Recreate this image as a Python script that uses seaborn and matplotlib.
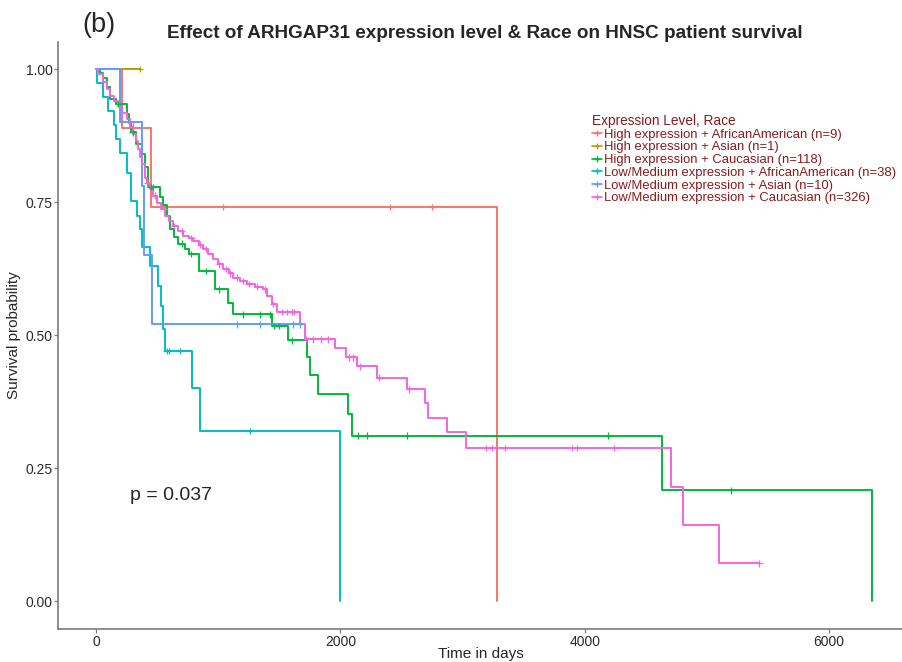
"""  Kaplan-Meier curves: ARHGAP31 expression level & race, HNSC  """
import matplotlib
matplotlib.use('Agg')
import matplotlib.pyplot as plt
from matplotlib.lines import Line2D
import numpy as np
import pandas as pd
import seaborn as sns

# ~~~~~~~~~  Data  ~~~~~~~~~ #
groups = ['High expression + AfricanAmerican (n=9)',
          'High expression + Asian (n=1)',
          'High expression + Caucasian (n=118)',
          'Low/Medium expression + AfricanAmerican (n=38)',
          'Low/Medium expression + Asian (n=10)',
          'Low/Medium expression + Caucasian (n=326)']
colors = ['#F8766D', '#B79F00', '#00BA38', '#00BFC4', '#619CFF', '#F564E3']

# step times (days) and survival right after each step
red_t = [0, 215, 447, 3281]
red_s = [1.0, 0.889, 0.741, 0.0]
red_cens = [1040, 2406, 2750]

gold_t = [0, 360]
gold_s = [1.0, 1.0]
gold_cens = [360]

green_t = [0, 30, 60, 90, 115, 160, 250, 270, 290, 330, 375, 400, 428, 524, 551, 578,
           606, 640, 674, 728, 760, 840, 975, 1083, 1124, 1437, 1574, 1727, 1751, 1819,
           2065, 2092, 4629, 6350]
green_s = [1.0, 0.992, 0.983, 0.966, 0.944, 0.934, 0.915, 0.898, 0.881, 0.860, 0.840,
           0.815, 0.778, 0.760, 0.745, 0.724, 0.699, 0.685, 0.672, 0.662, 0.652, 0.620,
           0.586, 0.561, 0.539, 0.517, 0.490, 0.458, 0.425, 0.389, 0.351, 0.311, 0.208, 0.0]
green_cens = [180, 300, 450, 470, 700, 780, 900, 1010, 1205, 1342, 1424, 1460, 1500,
              1600, 2144, 2217, 2545, 4190, 5196]

cyan_t = [0, 5, 55, 100, 150, 165, 200, 250, 290, 335, 360, 375, 445, 510, 535, 550,
          565, 785, 850, 2000]
cyan_s = [1.0, 0.974, 0.947, 0.921, 0.895, 0.868, 0.842, 0.805, 0.752, 0.724, 0.699,
          0.665, 0.630, 0.593, 0.555, 0.511, 0.470, 0.400, 0.320, 0.0]
cyan_cens = [578, 600, 687, 1260]

blue_t = [0, 196, 380, 392, 455, 1670]
blue_s = [1.0, 0.90, 0.78, 0.65, 0.52, 0.52]
blue_cens = [1155, 1342, 1613, 1670]

mag_t = [0, 20, 60, 90, 115, 150, 183, 215, 251, 280, 305, 325, 346, 360, 374, 401,
         420, 442, 470, 497, 530, 565, 600, 633, 675, 715, 760, 797, 840, 878, 920,
         960, 1000, 1042, 1085, 1124, 1180, 1233, 1300, 1369, 1400, 1440, 1480, 1669,
         1710, 1956, 2048, 2140, 2297, 2542, 2692, 2715, 2870, 3025, 4705, 4806, 5098,
         5428]
mag_s = [1.0, 0.990, 0.975, 0.962, 0.950, 0.940, 0.931, 0.918, 0.906, 0.892, 0.878,
         0.864, 0.850, 0.835, 0.821, 0.796, 0.785, 0.774, 0.762, 0.749, 0.737, 0.724,
         0.714, 0.705, 0.695, 0.687, 0.682, 0.677, 0.670, 0.662, 0.652, 0.643, 0.633,
         0.624, 0.616, 0.608, 0.602, 0.596, 0.591, 0.586, 0.574, 0.558, 0.543, 0.521,
         0.492, 0.475, 0.458, 0.441, 0.420, 0.398, 0.373, 0.345, 0.317, 0.288, 0.215,
         0.143, 0.071, 0.071]
mag_cens = [300, 420, 480, 560, 640, 700, 780, 850, 900, 1010, 1060, 1100, 1150, 1200,
            1250, 1320, 1380, 1450, 1520, 1560, 1600, 1620, 1720, 1780, 1840, 1900,
            2070, 2100, 2160, 2320, 2560, 3191, 3238, 3347, 3893, 3939, 4242, 5428]

x_ticks = [0, 2000, 4000, 6000]
y_ticks = [0.0, 0.25, 0.50, 0.75, 1.00]
p_text = 'p = 0.037'


# ~~~~~~~~~  Build long tables  ~~~~~~~~~ #
curves = [(red_t, red_s, red_cens), (gold_t, gold_s, gold_cens),
          (green_t, green_s, green_cens), (cyan_t, cyan_s, cyan_cens),
          (blue_t, blue_s, blue_cens), (mag_t, mag_s, mag_cens)]

rows, marks = [], []
for name, (t, s, cens) in zip(groups, curves):
    for ti, si in zip(t, s):
        rows.append((name, ti, si))
    # censor mark height = survival value of the step function at that time
    idx = np.searchsorted(t, cens, side='right') - 1
    for ci, k in zip(cens, idx):
        marks.append((name, ci, s[k]))
steps = pd.DataFrame(rows, columns=['group', 'time', 'surv'])
cens_df = pd.DataFrame(marks, columns=['group', 'time', 'surv'])
palette = dict(zip(groups, colors))


# ~~~~~~~~~  Plot  ~~~~~~~~~ #
sns.set_style('white')
plt.rcParams['font.family'] = ['Liberation Sans', 'DejaVu Sans']

fig = plt.figure(figsize=(9.03, 6.62), dpi=100)
ax = fig.add_axes([0.0642, 0.0498, 0.9358, 0.8867])

sns.lineplot(data=steps, x='time', y='surv', hue='group', palette=palette,
             estimator=None, sort=False, drawstyle='steps-post', linewidth=1.4,
             legend=False, ax=ax)
sns.scatterplot(data=cens_df, x='time', y='surv', hue='group', palette=palette,
                marker='+', s=22, linewidth=0.9, legend=False, ax=ax, zorder=3)

ax.set_xlim(-311, 6604)
ax.set_ylim(-0.0526, 1.0508)
ax.set_xticks(x_ticks)
ax.set_yticks(y_ticks)
ax.set_yticklabels([f'{v:.2f}' for v in y_ticks])
ax.tick_params(axis='both', length=3, width=0.9, color='#7a7a7a',
               labelsize=10, labelcolor='#2a2a2a', pad=1, left=True, bottom=True)
for side in ['top', 'right']:
    ax.spines[side].set_visible(False)
for side in ['left', 'bottom']:
    ax.spines[side].set_color('#7a7a7a')
    ax.spines[side].set_linewidth(1.2)
ax.set_xlabel('Time in days', fontsize=11, labelpad=-1)
ax.set_ylabel('Survival probability', fontsize=11, labelpad=3)

ax.text(278, 0.199, p_text, fontsize=14, ha='left', va='center')

# titles
fig.text(0.537, 0.950, 'Effect of ARHGAP31 expression level & Race on HNSC patient survival',
         fontsize=13.6, fontweight='bold', ha='center', va='center')
fig.text(0.091, 0.962, '(b)', fontsize=19.5, ha='left', va='center')

# legend
handles = [Line2D([0], [0], color=c, lw=1.2, marker='+', markersize=5) for c in colors]
leg = ax.legend(handles, groups, title='Expression Level, Race', loc='upper left',
                bbox_to_anchor=(0.6237, 0.889), frameon=False, fontsize=9.4,
                title_fontsize=9.8, handlelength=0.8, handletextpad=0.12,
                labelspacing=0.05, borderpad=0, alignment='left')
for txt in leg.get_texts():
    txt.set_color('#8B1A1A')
leg.get_title().set_color('#8B1A1A')

fig.savefig('out.png', dpi=100)
